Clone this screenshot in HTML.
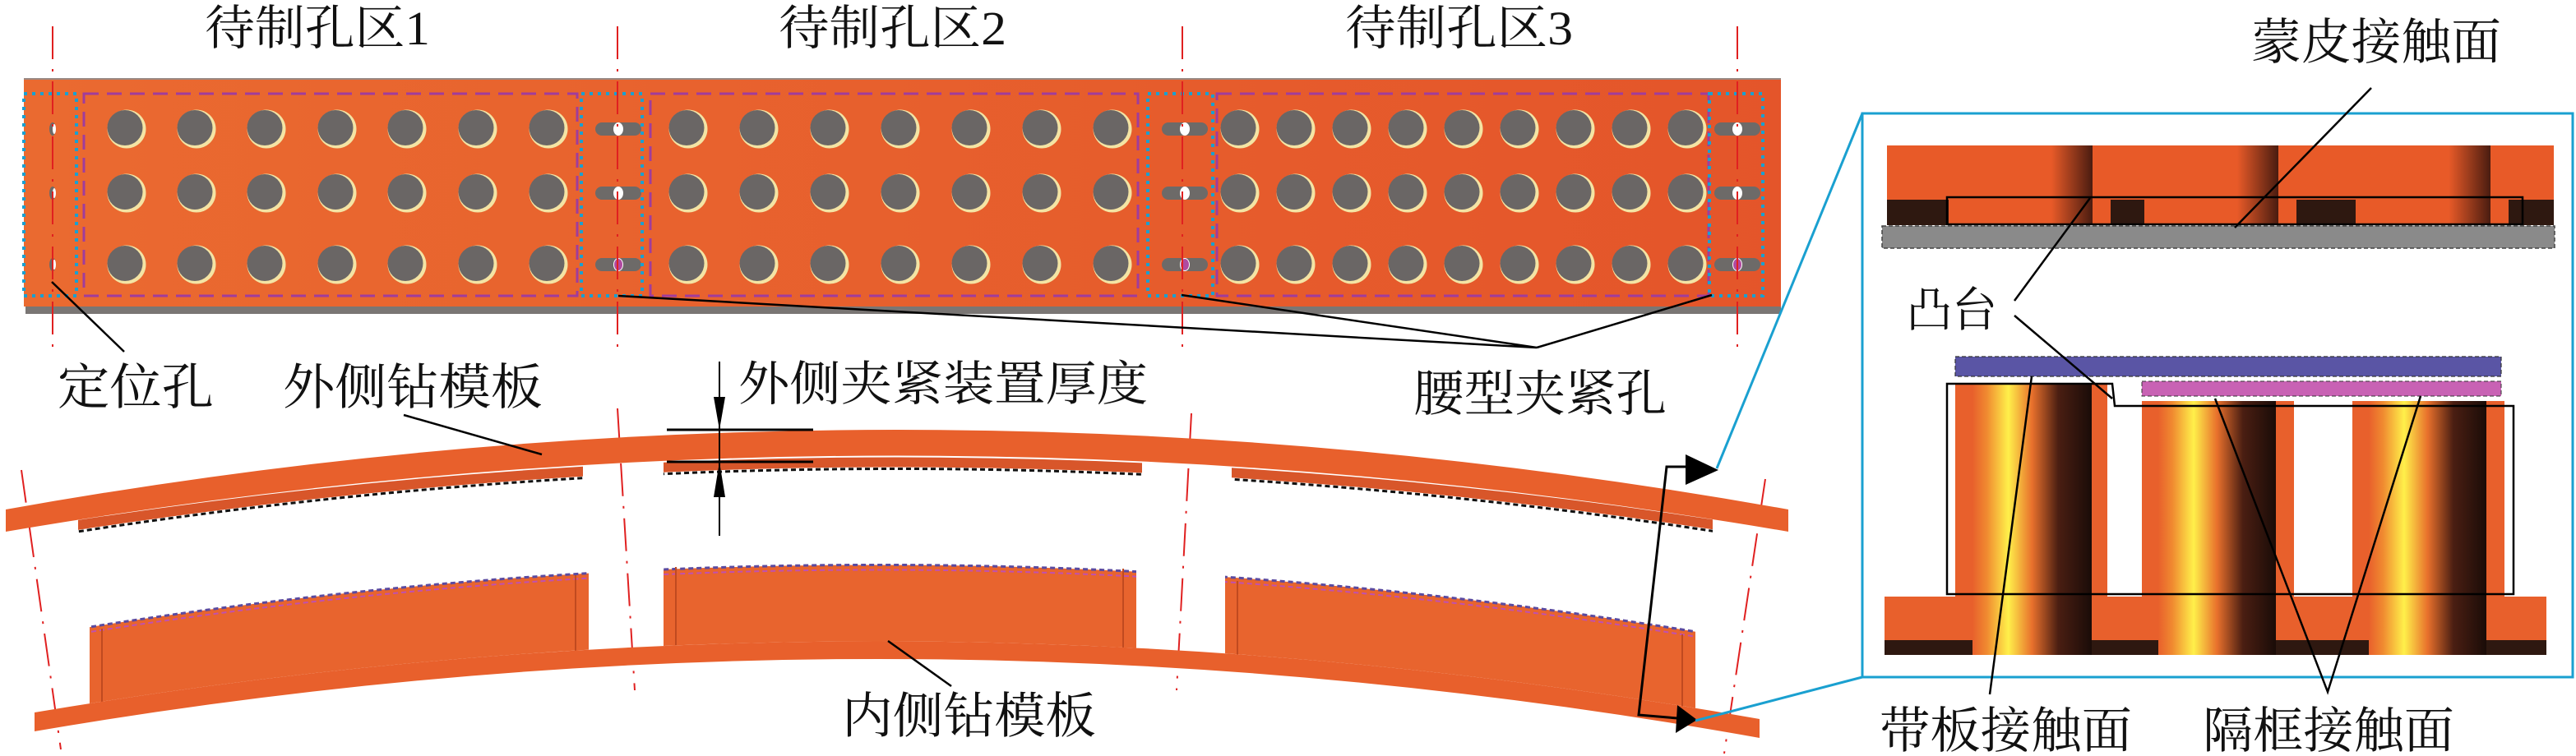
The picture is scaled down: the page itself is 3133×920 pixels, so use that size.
<!DOCTYPE html>
<html><head><meta charset="utf-8"><style>
html,body{margin:0;padding:0;background:#fff;}
svg{display:block;}
text{font-family:"Liberation Serif","Noto Serif CJK SC",serif;fill:#111;}
</style></head><body>
<svg width="3133" height="920" viewBox="0 0 3133 920" xmlns="http://www.w3.org/2000/svg">
<defs>
<linearGradient id="plate" x1="0" y1="0" x2="1" y2="0">
<stop offset="0" stop-color="#ea6a30"/><stop offset="1" stop-color="#e4552a"/></linearGradient>
<linearGradient id="cylB" x1="0" y1="0" x2="1" y2="0">
<stop offset="0" stop-color="#e8602c"/><stop offset="0.12" stop-color="#f08a30"/><stop offset="0.3" stop-color="#fff04a"/><stop offset="0.5" stop-color="#e8702c"/><stop offset="0.72" stop-color="#4a1e12"/><stop offset="1" stop-color="#1a0c08"/></linearGradient>
<linearGradient id="cylT" x1="0" y1="0" x2="1" y2="0">
<stop offset="0" stop-color="#e85a28"/><stop offset="0.65" stop-color="#e85a28"/><stop offset="1" stop-color="#4a1c10"/></linearGradient>
<g id="h"><circle r="23.5" fill="#f4e4a4"/><circle cx="-2" cy="-1.5" r="21.5" fill="#6a6665"/></g>
<g id="r1"><use href="#h" x="154"/><use href="#h" x="239"/><use href="#h" x="324"/><use href="#h" x="410"/><use href="#h" x="495"/><use href="#h" x="581"/><use href="#h" x="667"/></g>
<g id="r2"><use href="#h" x="837"/><use href="#h" x="923"/><use href="#h" x="1009"/><use href="#h" x="1095"/><use href="#h" x="1181"/><use href="#h" x="1267"/><use href="#h" x="1353"/></g>
<g id="r3"><use href="#h" x="1508"/><use href="#h" x="1576"/><use href="#h" x="1644"/><use href="#h" x="1712"/><use href="#h" x="1780"/><use href="#h" x="1848"/><use href="#h" x="1916"/><use href="#h" x="1984"/><use href="#h" x="2052"/></g>
<g id="slot"><rect x="-28" y="-8" width="56" height="16" rx="8" fill="#6d6a68"/><ellipse rx="6" ry="8" fill="#fff"/></g>
<clipPath id="blk"><rect x="109" y="600" width="607" height="300"/><rect x="807" y="600" width="575" height="300"/><rect x="1490" y="600" width="572" height="300"/></clipPath>
<clipPath id="pad"><rect x="95" y="500" width="614" height="200"/><rect x="807" y="500" width="582" height="200"/><rect x="1498" y="500" width="585" height="200"/></clipPath>
</defs>

<!-- titles -->
<text x="249" y="54" font-size="58" textLength="274" lengthAdjust="spacingAndGlyphs">待制孔区1</text>
<text x="947" y="54" font-size="58" textLength="277" lengthAdjust="spacingAndGlyphs">待制孔区2</text>
<text x="1636" y="54" font-size="58" textLength="277" lengthAdjust="spacingAndGlyphs">待制孔区3</text>

<!-- top plate -->
<rect x="31" y="371" width="2135" height="11" fill="#7a7674"/>
<rect x="29" y="95" width="2137" height="278" fill="url(#plate)"/>
<line x1="29" y1="96" x2="2166" y2="96" stroke="#9a8a84" stroke-width="2"/>
<use href="#r1" y="157"/><use href="#r1" y="235"/><use href="#r1" y="322"/>
<use href="#r2" y="157"/><use href="#r2" y="235"/><use href="#r2" y="322"/>
<use href="#r3" y="157"/><use href="#r3" y="235"/><use href="#r3" y="322"/>
<g fill="#6d6a68"><ellipse cx="64" cy="157" rx="4" ry="8"/><ellipse cx="64" cy="235" rx="4" ry="8"/><ellipse cx="64" cy="322" rx="4" ry="8"/></g>
<g fill="#fff"><ellipse cx="66" cy="157" rx="2" ry="6"/><ellipse cx="66" cy="235" rx="2" ry="6"/><ellipse cx="66" cy="322" rx="2" ry="6"/></g>
<use href="#slot" x="752" y="157"/><use href="#slot" x="752" y="235"/><use href="#slot" x="752" y="322"/>
<use href="#slot" x="1441" y="157"/><use href="#slot" x="1441" y="235"/><use href="#slot" x="1441" y="322"/>
<use href="#slot" x="2113" y="157"/><use href="#slot" x="2113" y="235"/><use href="#slot" x="2113" y="322"/>
<g fill="#b04aa0"><ellipse cx="752" cy="322" rx="5" ry="7"/><ellipse cx="1441" cy="322" rx="5" ry="7"/><ellipse cx="2113" cy="322" rx="5" ry="7"/></g>
<g fill="none" stroke="#a03c9c" stroke-width="3" stroke-dasharray="18 10">
<rect x="102" y="114" width="600" height="246"/><rect x="791" y="114" width="593" height="246"/><rect x="1480" y="114" width="598" height="246"/></g>
<g fill="none" stroke="#1aa0d0" stroke-width="4" stroke-dasharray="4 6">
<rect x="29" y="114" width="64" height="246"/><rect x="707" y="114" width="74" height="246"/><rect x="1396" y="114" width="79" height="246"/><rect x="2079" y="114" width="65" height="246"/></g>

<!-- red centerlines -->
<g stroke="#e02020" stroke-width="2" stroke-dasharray="40 12 3 12" fill="none">
<line x1="64" y1="32" x2="64" y2="432"/><line x1="751" y1="32" x2="751" y2="432"/><line x1="1438" y1="32" x2="1438" y2="432"/><line x1="2113" y1="32" x2="2113" y2="432"/>
<line x1="26" y1="572" x2="74" y2="912"/><line x1="751" y1="497" x2="772" y2="840"/><line x1="1449" y1="503" x2="1431" y2="840"/><line x1="2147" y1="583" x2="2097" y2="917"/>
</g>

<!-- outer band -->
<path d="M7,647 Q1091,466 2175,647 L2175,659 Q1091,478 7,659 Z" fill="#d8562a" clip-path="url(#pad)"/>
<path d="M7,661 Q1091,480 2175,661" fill="none" stroke="#111" stroke-width="3" stroke-dasharray="6 4" clip-path="url(#pad)"/>
<path d="M7,620 Q1091,426 2175,620 L2175,647 Q1091,462 7,647 Z" fill="#e8602c"/>
<!-- inner blocks & band -->
<path d="M42,774 Q1091,597 2140,782 L2140,875 Q1091,690 42,867 Z" fill="#e8642e" clip-path="url(#blk)"/>
<path d="M42,774 Q1091,597 2140,782" fill="none" stroke="#5a4aa0" stroke-width="3" stroke-dasharray="6 4" clip-path="url(#blk)"/>
<path d="M42,780 Q1091,603 2140,788" fill="none" stroke="#c050b0" stroke-width="2" stroke-dasharray="6 4" clip-path="url(#blk)"/>
<g stroke="#c04a20" stroke-width="2"><line x1="124" y1="765" x2="124" y2="860"/><line x1="700" y1="700" x2="700" y2="795"/><line x1="822" y1="690" x2="822" y2="785"/><line x1="1366" y1="692" x2="1366" y2="788"/><line x1="1505" y1="707" x2="1505" y2="803"/><line x1="2046" y1="772" x2="2046" y2="866"/></g>
<path d="M42,867 Q1091,690 2140,875 L2140,898 Q1091,710 42,890 Z" fill="#e8602c"/>

<!-- dimension -->
<g stroke="#000" stroke-width="3"><line x1="811" y1="523" x2="989" y2="523"/><line x1="811" y1="562" x2="989" y2="562"/></g>
<line x1="875" y1="440" x2="875" y2="652" stroke="#000" stroke-width="2"/>
<path d="M868,483 L882,483 L875,523 Z M868,605 L882,605 L875,562 Z" fill="#000"/>

<!-- bracket arrow -->
<path d="M2051,568 L2027,568 L1993,870 L2040,874" fill="none" stroke="#000" stroke-width="3"/>
<path d="M2050,553 L2090,572 L2050,590 Z M2040,858 L2064,876 L2038,892 Z" fill="#000"/>

<!-- cyan leader -->
<g stroke="#1aa0d0" stroke-width="3" fill="none">
<line x1="2265" y1="138" x2="2088" y2="570"/><line x1="2265" y1="824" x2="2062" y2="877"/>
<rect x="2265" y="138" width="864" height="686"/></g>

<!-- right box top -->
<rect x="2295" y="177" width="811" height="97" fill="#e85a28"/>
<rect x="2402" y="177" width="143" height="97" fill="url(#cylT)"/>
<rect x="2628" y="177" width="143" height="97" fill="url(#cylT)"/>
<rect x="2884" y="177" width="145" height="97" fill="url(#cylT)"/>
<g fill="#2e1810"><rect x="2295" y="243" width="75" height="31"/><rect x="2567" y="243" width="41" height="31"/><rect x="2793" y="243" width="72" height="31"/><rect x="3051" y="243" width="55" height="31"/></g>
<rect x="2368" y="240" width="700" height="33" fill="none" stroke="#000" stroke-width="2.5"/>
<rect x="2289" y="275" width="818" height="27" fill="#8a8a8a" stroke="#444" stroke-width="1.5" stroke-dasharray="5 3"/>

<!-- right box bottom -->
<rect x="2292" y="726" width="805" height="71" fill="#e8602c"/>
<rect x="2292" y="779" width="805" height="18" fill="#2e1810"/>
<rect x="2378" y="467" width="185" height="262" fill="#e8602c"/>
<rect x="2605" y="488" width="185" height="241" fill="#e8602c"/>
<rect x="2861" y="488" width="185" height="241" fill="#e8602c"/>
<rect x="2399" y="467" width="145" height="330" fill="url(#cylB)"/>
<rect x="2625" y="488" width="143" height="309" fill="url(#cylB)"/>
<rect x="2881" y="488" width="143" height="309" fill="url(#cylB)"/>
<path d="M2368,467 L2569,467 L2572,494 L3057,494 L3057,723 L2368,723 Z" fill="none" stroke="#000" stroke-width="2.5"/>
<rect x="2378" y="434" width="664" height="24" fill="#5a55a5" stroke="#333" stroke-width="1.2" stroke-dasharray="5 3"/>
<rect x="2605" y="464" width="437" height="18" fill="#c862b4" stroke="#333" stroke-width="1" stroke-dasharray="5 3"/>

<!-- leaders -->
<g stroke="#000" stroke-width="2.5" fill="none">
<line x1="63" y1="343" x2="151" y2="428"/>
<line x1="491" y1="505" x2="659" y2="553"/>
<polyline points="752,360 1869,423 1437,359"/><line x1="1869" y1="423" x2="2082" y2="359"/>
<line x1="1080" y1="780" x2="1157" y2="835"/>
<line x1="2450" y1="366" x2="2542" y2="241"/>
<line x1="2450" y1="384" x2="2569" y2="485"/>
<line x1="2884" y1="107" x2="2718" y2="277"/>
<line x1="2420" y1="845" x2="2471" y2="458"/>
<polyline points="2694,485 2831,842 2944,482"/>
</g>

<!-- labels -->
<text x="70" y="492" font-size="60" textLength="190" lengthAdjust="spacingAndGlyphs">定位孔</text>
<text x="344" y="492" font-size="60" textLength="316" lengthAdjust="spacingAndGlyphs">外侧钻模板</text>
<text x="898" y="487" font-size="58" textLength="498" lengthAdjust="spacingAndGlyphs">外侧夹紧装置厚度</text>
<text x="1719" y="500" font-size="60" textLength="308" lengthAdjust="spacingAndGlyphs">腰型夹紧孔</text>
<text x="1024" y="892" font-size="60" textLength="309" lengthAdjust="spacingAndGlyphs">内侧钻模板</text>
<text x="2738" y="72" font-size="60" textLength="304" lengthAdjust="spacingAndGlyphs">蒙皮接触面</text>
<text x="2319" y="397" font-size="58" textLength="110" lengthAdjust="spacingAndGlyphs">凸台</text>
<text x="2286" y="910" font-size="60" textLength="307" lengthAdjust="spacingAndGlyphs">带板接触面</text>
<text x="2679" y="910" font-size="60" textLength="306" lengthAdjust="spacingAndGlyphs">隔框接触面</text>
</svg>
</body></html>
